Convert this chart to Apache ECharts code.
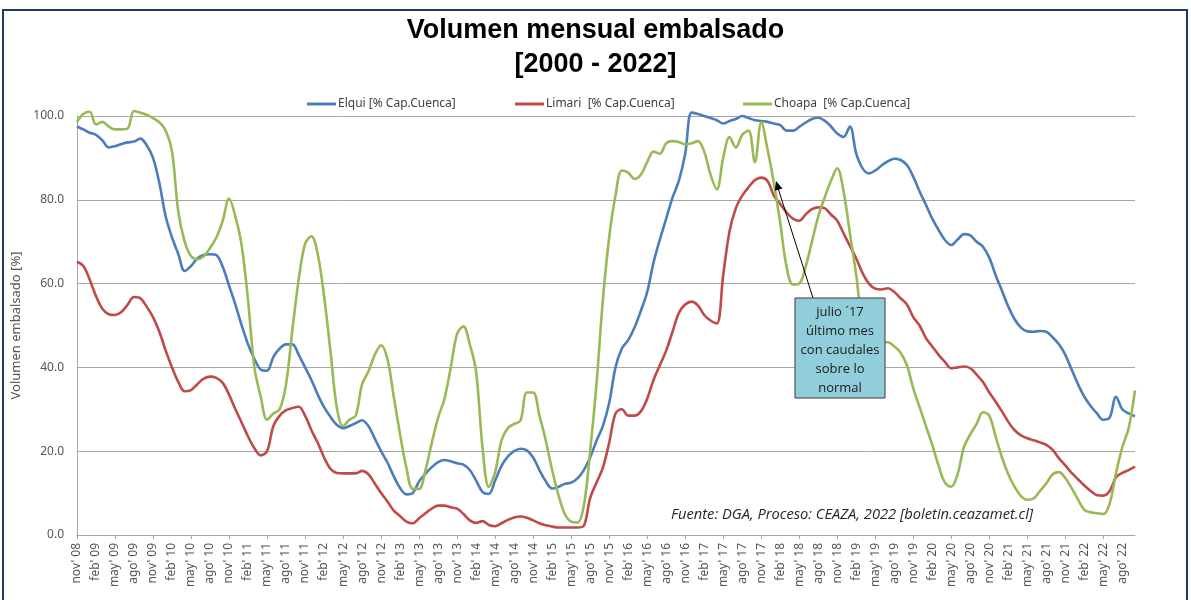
<!DOCTYPE html>
<html><head><meta charset="utf-8">
<script src="https://cdn.jsdelivr.net/npm/echarts@6/dist/echarts.min.js"></script>
<style>html,body{margin:0;padding:0;background:#fff}#c{width:1191px;height:600px}</style>
</head><body><div id="c"></div>
<script>
// Month names (Spanish) used to build monthly categories nov'08 .. oct'22
const MONTH_NAMES = ['ene','feb','mar','abr','may','jun','jul','ago','sep','oct','nov','dic'];
const START_MONTH = 10;   // November (0-based)
const START_YEAR = 2008;
const N_MONTHS = 168;
const categories = [];
for (let i = 0; i < N_MONTHS; i++) {
  const mi = (START_MONTH + i) % 12;
  const yr = START_YEAR + Math.floor((START_MONTH + i) / 12);
  categories.push(MONTH_NAMES[mi] + "' " + String(yr % 100).padStart(2, '0'));
}

const yTicks = [0, 20, 40, 60, 80, 100];

const elqui = [
97.5,96.8,96,95.5,94.2,92.5,92.8,93.3,93.7,93.9,94.6,93,90,84,76,71,67,63,64.2,66,
66.8,67,66.8,64,59.5,55,50,45.5,42,39.5,39.2,42.5,44.5,45.5,45.5,43,40,37,33.5,30.5,
28.2,26.3,25.5,26,26.7,27.4,26,23,20,17.3,14,11.2,9.7,10,12.8,14.6,16.2,17.4,17.9,17.6,
17.1,16.8,15.5,13,10.3,9.8,13,16.5,18.7,20,20.6,20.2,18.5,15.5,12.8,11.1,11.5,12.2,12.5,13.5,
15.5,18.5,22.5,26,31.5,40,44.5,46.5,49.5,53.5,58,65,70.5,75.5,80.5,84.5,91,100.8,100.5,100,
99.5,99,98.2,98.8,99.3,100,99.5,99,98.8,98.6,98.2,97.8,96.5,96.5,97.4,98.4,99.3,99.6,98.9,97.5,
95.8,95,97.5,91,87.5,86.3,87,88.2,89.2,89.8,89.5,88.3,85.5,82,78.8,75.5,72.8,70.4,69.2,70.5,
71.8,71.5,70,68.8,66.2,62,58.3,54.5,51.5,49.5,48.6,48.5,48.7,48.5,47.2,45.5,43,39.5,36,33,
30.8,29,27.5,28,33,30,29,28.3
];

const limari = [
65.2,64.2,61,57,54,52.7,52.5,53.2,55,56.8,56.5,54.5,52,48.5,44,40,36.5,34.3,34.6,36,
37.3,37.8,37.5,36.3,33.5,30,26.8,23.5,20.7,19,20,26,28.5,29.8,30.3,30.6,28.5,25,22,18.5,
15.8,14.8,14.7,14.7,14.7,15.3,14.5,12.3,10,8,5.8,4.5,3.2,2.8,4,5.2,6.3,7,7,6.6,
6.3,5,3.5,2.9,3.3,2.4,2.1,2.8,3.6,4.2,4.4,4.1,3.5,2.8,2.3,2,1.8,1.8,1.8,1.8,
2.2,8.8,12.5,16,22,29,30,28.5,28.5,29.5,32.5,37,40.5,44,48.5,53,55,55.7,54.8,52.5,
51.2,50.5,62,72.5,78,81,83,84.7,85.3,84.5,81,79,77,75.5,75,76.5,77.8,78.2,78,76.5,
75,72,69,66,62.5,60,58.8,58.6,58.9,58,56.5,55,52,50,47,45,43,41.3,39.8,40,
40.2,39.8,38.3,36.5,34,31.8,29.5,27,25,23.8,23.1,22.6,22.1,21.5,20.3,18.3,16.6,14.8,13.3,11.8,
10.5,9.5,9.4,10.5,13.8,14.8,15.5,16.3
];

const choapa = [
98.6,100.5,101,98,98.6,97.5,96.8,96.8,97,101.2,100.8,100.3,99.5,98.5,96.5,91.5,77,70,66.5,65.8,
66.5,68.5,71,75,80.3,76,69,56,40,33,27.5,29,30,36,49,61,69.5,71.3,67,57,
44,30.5,26,27.5,28.5,36,39,43,45.3,42,33,24,16,11,11,15.5,22,28,32.5,40,
48,49.8,45.5,39,21,11.5,15,22.5,25.5,26.5,27.3,34,34,28.5,22.5,15.5,9.5,5,3.2,3,
7,20,36,56,71,81,87,86.5,85,86,89,91.5,91,93.5,94,93.8,93.2,93.5,94,91.5,
86,82.5,90,95,92.5,95.5,96.5,89,98.5,92,84,74.5,64,59.8,60,64,70,76,80.5,84.5,
87.5,82,72,62,50,46,45.5,46,46,45,43.5,40.5,35,30.5,26,21.5,16.5,12.5,11.5,14.5,
21,24,26.5,29.3,28.5,23.5,18.5,14.5,11.5,9.3,8.4,8.7,10.5,12.3,14.5,15,13.6,11.2,8.5,6,
5.4,5.2,5,7.5,14.7,21,25.5,34.5
];

const SERIES_NAMES = ['Elqui [% Cap.Cuenca]', 'Limari  [% Cap.Cuenca]', 'Choapa  [% Cap.Cuenca]'];
const COLORS = ['#4A7EBB', '#BE4B48', '#98B954'];

const chart = echarts.init(document.getElementById('c'), null, {renderer: 'canvas'});
const FONT = 'Noto Sans';
function legendFor(i, left) {
  return {
    left: left, top: 93, data: [SERIES_NAMES[i]], icon: 'rect', itemWidth: 29, itemHeight: 3,
    itemGap: 4, textStyle: {fontFamily: FONT, fontSize: 12, color: '#404040', padding: [0,0,0,-3]}
  };
}
function lineSeries(i, data) {
  return {
    name: SERIES_NAMES[i], type: 'line', data: data, smooth: 0.35, symbol: 'none', showSymbol: false,
    clip: false, lineStyle: {color: COLORS[i], width: 2.6}, itemStyle: {color: COLORS[i]}
  };
}

chart.setOption({
  backgroundColor: '#ffffff',
  animation: false,
  title: {
    text: 'Volumen mensual embalsado\n[2000 - 2022]', left: 'center', top: 9,
    textStyle: {fontFamily: 'Liberation Sans', fontWeight: 'bold', fontSize: 27, lineHeight: 34, color: '#000'}
  },
  legend: [legendFor(0, 302), legendFor(1, 510), legendFor(2, 738)],
  grid: {left: 77, right: 56, top: 116, bottom: 65, containLabel: false},
  xAxis: {
    type: 'category', data: categories, boundaryGap: false,
    axisLine: {show: true, lineStyle: {color: '#A6A6A6', width: 1}},
    axisTick: {show: true, interval: 5, length: 4, lineStyle: {color: '#A6A6A6'}},
    axisLabel: {interval: 2, rotate: 90, margin: 8, fontFamily: FONT, fontSize: 12, color: '#555'},
    splitLine: {show: false}
  },
  yAxis: {
    type: 'value', min: 0, max: 100, interval: 20,
    name: 'Volumen embalsado [%]', nameLocation: 'middle', nameGap: 46, nameRotate: 90,
    nameTextStyle: {fontFamily: FONT, fontSize: 13, color: '#555'},
    axisLine: {show: true, lineStyle: {color: '#A6A6A6'}},
    axisTick: {show: false},
    axisLabel: {margin: 13, fontFamily: FONT, fontSize: 12, color: '#555',
      formatter: v => yTicks.includes(v) ? v.toFixed(1) : ''},
    splitLine: {show: true, lineStyle: {color: '#A6A6A6', width: 1}}
  },
  series: [lineSeries(0, elqui), lineSeries(1, limari), lineSeries(2, choapa)],
  graphic: [
    {type: 'rect', z: 100, shape: {x: 3, y: 10, width: 1184, height: 600},
      style: {fill: 'none', stroke: '#1F3A68', lineWidth: 2}},
    {type: 'line', z: 100, shape: {x1: 813, y1: 298, x2: 778, y2: 188},
      style: {stroke: '#000', lineWidth: 1}},
    {type: 'polygon', z: 100, shape: {points: [[776, 181], [782.5, 188.4], [774.9, 190.8]]},
      style: {fill: '#000'}},
    {type: 'rect', z: 100, shape: {x: 795, y: 298, width: 90, height: 100},
      style: {fill: '#92CDDC', stroke: '#3A3A3A', lineWidth: 1}},
    {type: 'text', z: 101, x: 840, y: 303,
      style: {text: 'julio ´17\núltimo mes\ncon caudales\nsobre lo\nnormal', textAlign: 'center',
        textVerticalAlign: 'top', font: '13px "Open Sans"', lineHeight: 19, fill: '#1a1a1a'}},
    {type: 'text', z: 101, x: 671, y: 515,
      style: {text: 'Fuente: DGA, Proceso: CEAZA, 2022 [boletin.ceazamet.cl]',
        textVerticalAlign: 'middle', font: 'italic 14.7px "Open Sans"', fill: '#262626'}}
  ]
});
</script></body></html>
